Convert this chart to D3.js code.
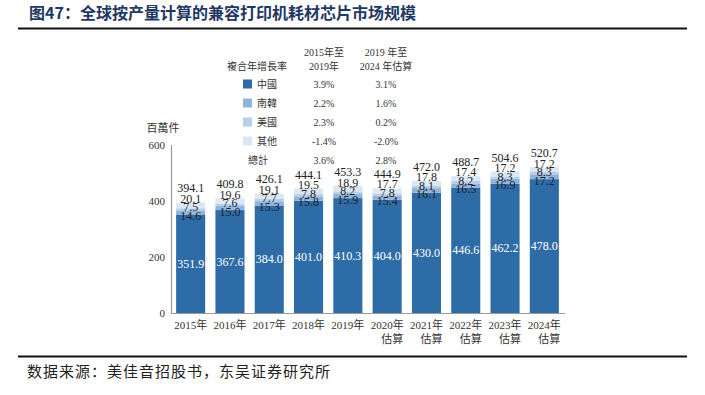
<!DOCTYPE html>
<html>
<head>
<meta charset="utf-8">
<script src="https://cdn.jsdelivr.net/npm/d3@7"></script>
<style>
  html, body { margin: 0; padding: 0; background: #fff; }
  svg { display: block; }
</style>
</head>
<body>
<div id="chart"></div>
<script>
// data (百萬件)
const years = ["2015年", "2016年", "2017年", "2018年", "2019年", "2020年", "2021年", "2022年", "2023年", "2024年"];
const estimated = [false, false, false, false, false, true, true, true, true, true];
const china  = [351.9, 367.6, 384.0, 401.0, 410.3, 404.0, 430.0, 446.6, 462.2, 478.0];
const korea  = [14.6, 15.0, 15.3, 15.8, 15.9, 15.4, 16.1, 16.5, 16.9, 17.2];
const usa    = [7.5, 7.6, 7.7, 7.8, 8.2, 7.8, 8.1, 8.2, 8.3, 8.3];
const others = [20.1, 19.6, 19.1, 19.5, 18.9, 17.7, 17.8, 17.4, 17.2, 17.2];
const totals = [394.1, 409.8, 426.1, 444.1, 453.3, 444.9, 472.0, 488.7, 504.6, 520.7];
const yTicks = [0, 200, 400, 600];

// CAGR legend table
const seriesNames = ["中國", "南韓", "美國", "其他", "總計"];
const cagr1519 = ["3.9%", "2.2%", "2.3%", "-1.4%", "3.6%"];
const cagr1924 = ["3.1%", "1.6%", "0.2%", "-2.0%", "2.8%"];

const colors = ["#2e6ca8", "#8fb4dd", "#b7cfe9", "#dce7f4"];
const serif = "'Liberation Serif', 'Times New Roman', 'Noto Sans CJK TC', serif";
const cjk = "'Noto Sans CJK SC', sans-serif";

const W = 705, H = 395;
const svg = d3.select("#chart").append("svg")
  .attr("width", W)
  .attr("height", H);

// title + rules
svg.append("text")
  .attr("x", 29).attr("y", 19)
  .attr("font-family", cjk)
  .attr("font-size", 16)
  .attr("font-weight", "bold")
  .attr("fill", "#1f3864")
  .text("图47：全球按产量计算的兼容打印机耗材芯片市场规模");

svg.append("line")
  .attr("x1", 18).attr("x2", 687)
  .attr("y1", 28.5).attr("y2", 28.5)
  .attr("stroke", "#111").attr("stroke-width", 2);

svg.append("line")
  .attr("x1", 18).attr("x2", 687)
  .attr("y1", 356.5).attr("y2", 356.5)
  .attr("stroke", "#111").attr("stroke-width", 2);

svg.append("text")
  .attr("x", 27).attr("y", 377)
  .attr("font-family", cjk)
  .attr("font-size", 15)
  .attr("letter-spacing", 1)
  .attr("fill", "#222")
  .text("数据来源：美佳音招股书，东吴证券研究所");

// scales
const x = d3.scaleBand()
  .domain(years)
  .range([171, 564])
  .paddingInner(0.26)
  .paddingOuter(0.13);

const y = d3.scaleLinear()
  .domain([0, 600])
  .range([313, 145]);

// stacked bars
const rows = years.map((yr, i) => ({ year: yr, china: china[i], korea: korea[i], usa: usa[i], others: others[i] }));
const keys = ["china", "korea", "usa", "others"];
const stacked = d3.stack().keys(keys)(rows);

svg.append("g")
  .selectAll("g")
  .data(stacked)
  .enter().append("g")
  .attr("fill", (d, i) => colors[i])
  .selectAll("rect")
  .data(d => d)
  .enter().append("rect")
  .attr("x", d => x(d.data.year))
  .attr("y", d => y(d[1]))
  .attr("width", x.bandwidth())
  .attr("height", d => y(d[0]) - y(d[1]));

// axes (lines only, no ticks)
svg.append("line")
  .attr("x1", 171.5).attr("x2", 171.5)
  .attr("y1", y(600)).attr("y2", y(0) + 1)
  .attr("stroke", "#9a9a9a").attr("stroke-width", 1.2);

svg.append("line")
  .attr("x1", 171).attr("x2", 565)
  .attr("y1", y(0) + 0.5).attr("y2", y(0) + 0.5)
  .attr("stroke", "#9a9a9a").attr("stroke-width", 1.2);

svg.append("g")
  .selectAll("text")
  .data(yTicks)
  .enter().append("text")
  .attr("x", 165)
  .attr("y", d => y(d))
  .attr("dy", "0.35em")
  .attr("text-anchor", "end")
  .attr("font-family", serif)
  .attr("font-size", 11)
  .attr("fill", "#333")
  .text(d => d);

svg.append("text")
  .attr("x", 163).attr("y", 132)
  .attr("text-anchor", "middle")
  .attr("font-family", serif)
  .attr("font-size", 11)
  .attr("fill", "#333")
  .text("百萬件");

// x labels
const xl = svg.append("g")
  .selectAll("g")
  .data(years)
  .enter().append("g");

xl.append("text")
  .attr("x", d => x(d) + x.bandwidth() / 2)
  .attr("y", 329)
  .attr("text-anchor", "middle")
  .attr("font-family", serif)
  .attr("font-size", 11)
  .attr("fill", "#333")
  .text(d => d);

xl.filter((d, i) => estimated[i]).append("text")
  .attr("x", d => x(d) + x.bandwidth() / 2 + 16)
  .attr("y", 343)
  .attr("text-anchor", "end")
  .attr("font-family", serif)
  .attr("font-size", 11)
  .attr("fill", "#333")
  .text("估算");

// value labels
const labels = svg.append("g")
  .attr("font-family", serif)
  .attr("font-size", 12)
  .attr("text-anchor", "middle")
  .selectAll("g")
  .data(rows)
  .enter().append("g")
  .attr("transform", d => `translate(${x(d.year) + x.bandwidth() / 2},0)`);

labels.append("text")
  .attr("y", d => y(d.china / 2) + 4)
  .attr("fill", "#fff")
  .text(d => d.china.toFixed(1));

labels.append("text")
  .attr("y", d => y(d.china) + 5.5)
  .attr("fill", "#222")
  .text(d => d.korea.toFixed(1));

labels.append("text")
  .attr("y", d => y(d.china) - 3)
  .attr("fill", "#222")
  .text(d => d.usa.toFixed(1));

labels.append("text")
  .attr("y", d => y(d.china) - 11.5)
  .attr("fill", "#222")
  .text(d => d.others.toFixed(1));

labels.append("text")
  .attr("y", (d, i) => y(d.china) - 22)
  .attr("fill", "#222")
  .text((d, i) => totals[i].toFixed(1));

// CAGR legend table
const lg = svg.append("g")
  .attr("font-family", serif)
  .attr("font-size", 10)
  .attr("fill", "#333");

lg.append("text").attr("x", 324).attr("y", 56).attr("text-anchor", "middle").text("2015年至");
lg.append("text").attr("x", 324).attr("y", 70).attr("text-anchor", "middle").text("2019年");
lg.append("text").attr("x", 386).attr("y", 56).attr("text-anchor", "middle").text("2019 年至");
lg.append("text").attr("x", 386).attr("y", 70).attr("text-anchor", "middle").text("2024 年估算");
lg.append("text").attr("x", 257).attr("y", 70).attr("text-anchor", "middle").text("複合年增長率");

const rowY = d3.scalePoint().domain(seriesNames).range([84, 160]);

const lr = lg.selectAll("g.row")
  .data(seriesNames)
  .enter().append("g")
  .attr("class", "row")
  .attr("transform", d => `translate(0,${rowY(d)})`);

lr.filter((d, i) => i < 4).append("rect")
  .attr("x", 243).attr("y", -4.5)
  .attr("width", 9).attr("height", 9)
  .attr("fill", (d, i) => colors[i]);

lr.append("text")
  .attr("x", (d, i) => i < 4 ? 257 : 248)
  .attr("dy", "0.35em")
  .text(d => d);

lr.append("text")
  .attr("x", 324)
  .attr("dy", "0.35em")
  .attr("text-anchor", "middle")
  .text((d, i) => cagr1519[i]);

lr.append("text")
  .attr("x", 386)
  .attr("dy", "0.35em")
  .attr("text-anchor", "middle")
  .text((d, i) => cagr1924[i]);
</script>
</body>
</html>
